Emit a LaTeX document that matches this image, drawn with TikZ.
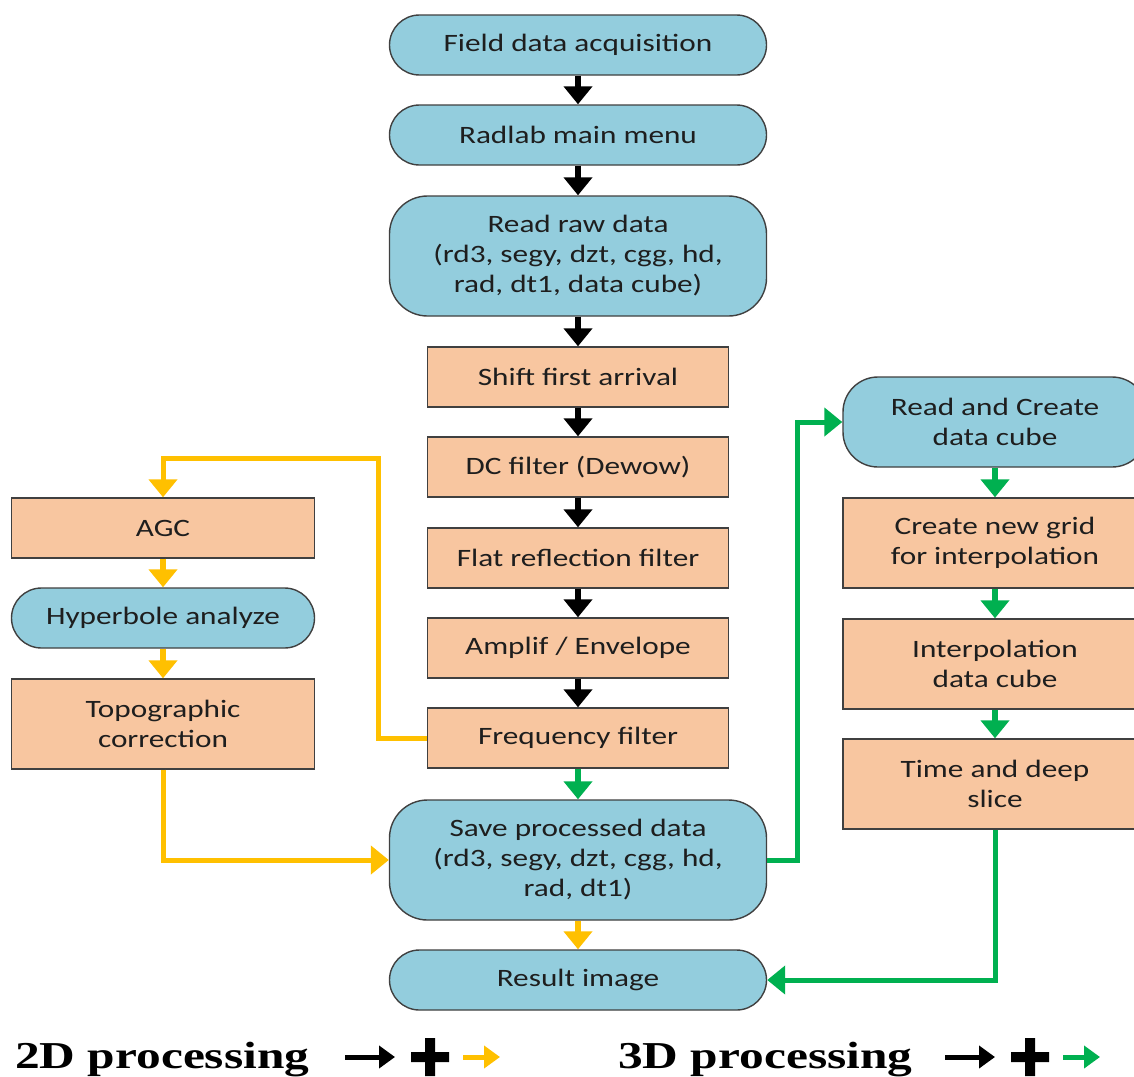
\documentclass[tikz,border=0pt]{standalone}
\usepackage{fontspec}
\setmainfont{Carlito}[FakeStretch=1.25]
\newfontfamily\legendfont{Liberation Serif}[FakeStretch=1.3]
\usetikzlibrary{arrows.meta}
\definecolor{boxblue}{HTML}{93CDDD}
\definecolor{boxorange}{HTML}{F8C6A0}
\definecolor{edgegray}{HTML}{404040}
\definecolor{txt}{HTML}{1E1E1E}
\definecolor{flowyellow}{HTML}{FFC000}
\definecolor{flowgreen}{HTML}{00B050}
\tikzset{
  base/.style={draw=edgegray, line width=1.4pt, inner sep=0pt, align=center,
    text=txt, font=\fontsize{25}{30}\selectfont},
  pill/.style={base, fill=boxblue, rounded corners=30pt, minimum height=60pt},
  roundbox/.style={base, fill=boxblue, rounded corners=38pt},
  stepbox/.style={base, fill=boxorange, rounded corners=0pt},
  flow/.style={line width=6pt, -{Triangle[length=18pt,width=28pt]}},
  blackflow/.style={flow, draw=black},
  yellowflow/.style={flow, draw=flowyellow},
  greenflow/.style={flow, draw=flowgreen},
  keyarrow/.style={line width=5pt, -{Triangle[length=16pt,width=22pt]}},
}
\begin{document}
\begin{tikzpicture}[x=1pt, y=-1pt]
\useasboundingbox[fill=white] (0,0) rectangle (1134,1076);

% main column
\node[pill, minimum width=377pt] (fda) at (578,45) {Field data acquisition};
\node[pill, minimum width=377pt] (rmm) at (578,135) {Radlab main menu};
\node[roundbox, minimum width=377pt, minimum height=120pt] (rrd) at (578,256)
  {Read raw data\\(rd3, segy, dzt, cgg, hd,\\rad, dt1, data cube)};
\node[stepbox, minimum width=301pt, minimum height=60pt] (sfa) at (578,377) {Shift first arrival};
\node[stepbox, minimum width=301pt, minimum height=60pt] (dcf) at (578,467) {DC filter (Dewow)};
\node[stepbox, minimum width=301pt, minimum height=60pt] (frf) at (578,558) {Flat reflection filter};
\node[stepbox, minimum width=301pt, minimum height=60pt] (amp) at (578,648) {Amplif / Envelope};
\node[stepbox, minimum width=301pt, minimum height=60pt] (ff) at (578,738) {Frequency filter};
\node[roundbox, minimum width=377pt, minimum height=120pt] (spd) at (578,860)
  {Save processed data\\(rd3, segy, dzt, cgg, hd,\\rad, dt1)};
\node[pill, minimum width=377pt] (ri) at (578,980) {Result image};

% 2D branch
\node[stepbox, minimum width=303pt, minimum height=60pt] (agc) at (163,528) {AGC};
\node[pill, minimum width=303pt] (hyp) at (163,618) {Hyperbole analyze};
\node[stepbox, minimum width=303pt, minimum height=90pt] (topo) at (163,724) {Topographic\\correction};

% 3D branch
\node[roundbox, rounded corners=35pt, minimum width=304pt, minimum height=90pt] (rcd) at (995,422)
  {Read and Create\\data cube};
\node[stepbox, minimum width=304pt, minimum height=90pt] (cng) at (995,543)
  {Create new grid\\for interpolation};
\node[stepbox, minimum width=304pt, minimum height=90pt] (idc) at (995,664)
  {Interpolation\\data cube};
\node[stepbox, minimum width=304pt, minimum height=90pt] (tds) at (995,784)
  {Time and deep\\slice};

% common steps
\draw[blackflow] (fda) -- (rmm);
\draw[blackflow] (rmm) -- (rrd);
\draw[blackflow] (rrd) -- (sfa);
\draw[blackflow] (sfa) -- (dcf);
\draw[blackflow] (dcf) -- (frf);
\draw[blackflow] (frf) -- (amp);
\draw[blackflow] (amp) -- (ff);

% 2D route
\coordinate (ybend) at (378,458);
\draw[yellowflow, line width=5pt] (ff.west) -- (ff.west -| ybend) |- (agc.north |- ybend) -- (agc.north);
\draw[yellowflow] (agc) -- (hyp);
\draw[yellowflow] (hyp) -- (topo);
\draw[yellowflow, line width=5pt] (topo.south) |- (spd.west);
\draw[yellowflow] (spd) -- (ri);

% 3D route
\draw[greenflow] (ff) -- (spd);
\coordinate (gbend) at (797,0);
\draw[greenflow, line width=5pt] (spd.east) -- (spd.east -| gbend) |- (rcd.west);
\draw[greenflow] (rcd) -- (cng);
\draw[greenflow] (cng) -- (idc);
\draw[greenflow] (idc) -- (tds);
\draw[greenflow, line width=5pt] (tds.south) |- (ri.east);

% key
\node[anchor=base west, inner sep=0pt, font=\legendfont\bfseries\fontsize{38}{40}\selectfont]
  (key2d) at (15,1068) {2D processing};
\coordinate (k2a) at (345,1057);
\coordinate (k2b) at (395,1057);
\draw[keyarrow, draw=black] (k2a) -- (k2b);
\fill[black] (411,1052) rectangle (449,1062) (425,1038) rectangle (435,1076);
\coordinate (k2c) at (463,1057);
\coordinate (k2d) at (500,1057);
\draw[keyarrow, draw=flowyellow] (k2c) -- (k2d);

\node[anchor=base west, inner sep=0pt, font=\legendfont\bfseries\fontsize{38}{40}\selectfont]
  (key3d) at (618,1068) {3D processing};
\coordinate (k3a) at (945,1057);
\coordinate (k3b) at (995,1057);
\draw[keyarrow, draw=black] (k3a) -- (k3b);
\fill[black] (1011,1052) rectangle (1049,1062) (1025,1038) rectangle (1035,1076);
\coordinate (k3c) at (1063,1057);
\coordinate (k3d) at (1100,1057);
\draw[keyarrow, draw=flowgreen] (k3c) -- (k3d);
\end{tikzpicture}
\end{document}
